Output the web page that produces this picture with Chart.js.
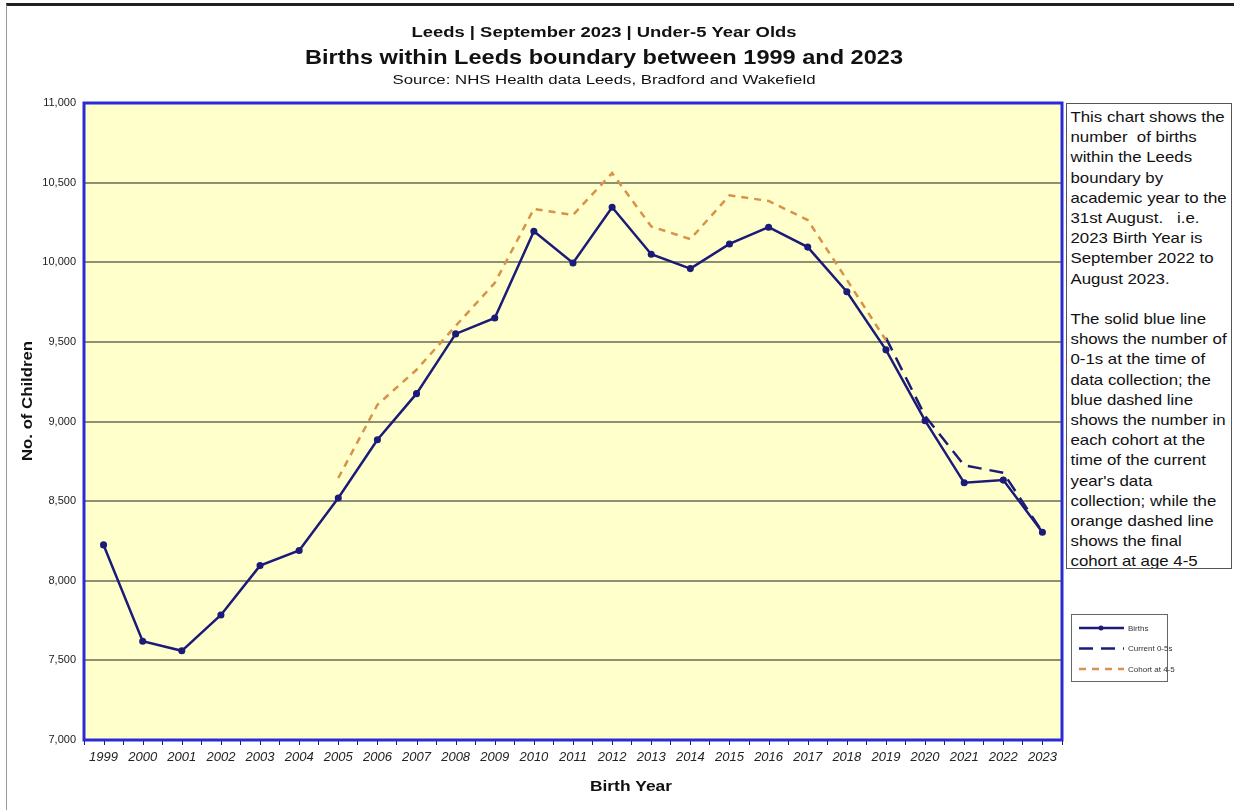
<!DOCTYPE html>
<html>
<head>
  <title>Births within Leeds boundary</title>
  <script src="https://cdn.jsdelivr.net/npm/chart.js"></script>
  <style>
    body {
      margin: 0;
      background: #ffffff;
      font-family: 'Liberation Sans', Arial, sans-serif;
      overflow: hidden;
    }

    .wrap {
      position: relative;
      width: 1234px;
      height: 810px;
    }

    /* outer frame of the original sheet */
    .frame {
      position: absolute;
      left: 6px;
      top: 3px;
      width: 1240px;
      height: 820px;
      border-top: 3px solid #222;
      border-left: 1px solid #9a9a9a;
    }

    .note {
      position: absolute;
      left: 1066px;
      top: 103px;
      width: 166px;
      height: 466px;
      border: 1px solid #555;
      background: #fff;
      overflow: hidden;
      box-sizing: border-box;
    }

    .note div {
      font-size: 14.5px;
      line-height: 20.2px;
      color: #111;
      padding: 3px 0 0 3px;
      white-space: nowrap;
      transform: scaleX(1.16);
      transform-origin: left top;
    }
  </style>
</head>
<body>
  <div class="wrap">
    <canvas id="birthsChart" width="1234" height="810"></canvas>
    <div class="frame"></div>
    <div class="note"><div>
      This chart shows the<br>
      number &nbsp;of births<br>
      within the Leeds<br>
      boundary by<br>
      academic year to the<br>
      31st August. &nbsp; i.e.<br>
      2023 Birth Year is<br>
      September 2022 to<br>
      August 2023.<br>
      <br>
      The solid blue line<br>
      shows the number of<br>
      0-1s at the time of<br>
      data collection; the<br>
      blue dashed line<br>
      shows the number in<br>
      each cohort at the<br>
      time of the current<br>
      year's data<br>
      collection; while the<br>
      orange dashed line<br>
      shows the final<br>
      cohort at age 4-5
    </div></div>
  </div>

  <script>
    // Birth years (academic year to 31st August)
    const years = ['1999', '2000', '2001', '2002', '2003', '2004', '2005', '2006', '2007',
      '2008', '2009', '2010', '2011', '2012', '2013', '2014', '2015', '2016', '2017',
      '2018', '2019', '2020', '2021', '2022', '2023'];

    // Births (0-1s at time of collection)
    const births = [8225, 7620, 7560, 7785, 8095, 8190, 8520, 8885, 9175, 9550, 9650,
      10195, 9995, 10345, 10050, 9960, 10115, 10220, 10095, 9815, 9450, 9005, 8615, 8632, 8305];

    // Current 0-5s (cohort size at this year's collection)
    const current05 = [null, null, null, null, null, null, null, null, null, null, null,
      null, null, null, null, null, null, null, null, null, 9525, 9035, 8725, 8678, 8305];

    // Final cohort at age 4-5
    const cohort45 = [null, null, null, null, null, null, 8645, 9105, 9325, 9600, 9870,
      10335, 10297, 10560, 10225, 10145, 10420, 10385, 10265, 9890, 9510, null, null, null, null];

    const yTicks = [7000, 7500, 8000, 8500, 9000, 9500, 10000, 10500, 11000];

    const NAVY = '#1c1c78';
    const ORANGE = '#d8924a';
    const FONT = "'Liberation Sans', Arial, sans-serif";

    // text in the original is stretched sideways, so fit it to a width
    function fitText(ctx, text, x, y, w) {
      const m = ctx.measureText(text).width;
      ctx.save();
      ctx.translate(x, y);
      ctx.scale(w / m, 1);
      ctx.fillText(text, 0, 0);
      ctx.restore();
    }

    // yellow plot area + blue box + extra ticks under each year
    const plotBox = {
      id: 'plotBox',
      beforeDraw(chart) {
        const { ctx, chartArea: a } = chart;
        ctx.save();
        ctx.fillStyle = '#ffffcc';
        ctx.fillRect(a.left, a.top, a.right - a.left, a.bottom - a.top);
        ctx.restore();
      },
      beforeDatasetsDraw(chart) {
        const { ctx, chartArea: a } = chart;
        const x = chart.scales.x;
        ctx.save();
        ctx.strokeStyle = NAVY;
        ctx.lineWidth = 1;
        years.forEach((y, i) => {
          const px = Math.round(x.getPixelForValue(i)) + 0.5;
          ctx.beginPath();
          ctx.moveTo(px, a.bottom);
          ctx.lineTo(px, a.bottom + 5);
          ctx.stroke();
        });
        ctx.strokeStyle = '#2a2ad8';
        ctx.lineWidth = 3;
        ctx.strokeRect(a.left, a.top, a.right - a.left, a.bottom - a.top);
        ctx.restore();
      }
    };

    // header lines, axis titles and the small legend box
    const labels = {
      id: 'labels',
      afterDraw(chart) {
        const { ctx, chartArea: a } = chart;
        ctx.save();
        ctx.fillStyle = '#111';
        ctx.textAlign = 'center';
        ctx.textBaseline = 'middle';
        const cx = 604;
        ctx.font = 'bold 15px ' + FONT;
        fitText(ctx, 'Leeds | September 2023 | Under-5 Year Olds', cx, 33, 385);
        ctx.font = 'bold 20px ' + FONT;
        fitText(ctx, 'Births within Leeds boundary between 1999 and 2023', cx, 58, 598);
        ctx.font = '13px ' + FONT;
        fitText(ctx, 'Source: NHS Health data Leeds, Bradford and Wakefield', cx, 80, 423);

        ctx.font = 'bold 15px ' + FONT;
        fitText(ctx, 'Birth Year', 631, 787, 82);
        ctx.save();
        ctx.translate(28, 401);
        ctx.rotate(-Math.PI / 2);
        ctx.font = 'bold 14px ' + FONT;
        fitText(ctx, 'No. of Children', 0, 0, 120);
        ctx.restore();

        // legend
        const lx = a.right + 9, ly = 614;
        ctx.fillStyle = '#fff';
        ctx.fillRect(lx, ly, 96, 67);
        ctx.strokeStyle = '#666';
        ctx.lineWidth = 1;
        ctx.strokeRect(lx + 0.5, ly + 0.5, 96, 67);
        ctx.textAlign = 'left';
        ctx.font = '8px ' + FONT;
        chart.data.datasets.forEach((ds, i) => {
          const y = ly + 14 + i * 20.5;
          ctx.strokeStyle = ds.borderColor;
          ctx.lineWidth = ds.borderWidth;
          ctx.setLineDash(ds.borderDash || []);
          ctx.beginPath();
          ctx.moveTo(lx + 8, y);
          ctx.lineTo(lx + 53, y);
          ctx.stroke();
          ctx.setLineDash([]);
          if (ds.pointRadius) {
            ctx.fillStyle = ds.borderColor;
            ctx.beginPath();
            ctx.arc(lx + 30, y, 2.5, 0, Math.PI * 2);
            ctx.fill();
          }
          ctx.fillStyle = '#333';
          ctx.fillText(ds.label, lx + 57, y + 0.5);
        });
        ctx.restore();
      }
    };

    new Chart(document.getElementById('birthsChart'), {
      type: 'line',
      data: {
        labels: years,
        datasets: [
          {
            label: 'Births',
            data: births,
            borderColor: NAVY,
            backgroundColor: NAVY,
            borderWidth: 2.5,
            pointRadius: 2.3,
            tension: 0,
            order: 3
          },
          {
            label: 'Current 0-5s',
            data: current05,
            borderColor: NAVY,
            borderWidth: 2.5,
            borderDash: [14, 8],
            pointRadius: 0,
            tension: 0,
            order: 2
          },
          {
            label: 'Cohort at 4-5',
            data: cohort45,
            borderColor: ORANGE,
            borderWidth: 2.5,
            borderDash: [7, 6],
            pointRadius: 0,
            tension: 0,
            order: 1
          }
        ]
      },
      options: {
        responsive: false,
        animation: false,
        layout: { padding: { top: 103, left: 0, right: 172, bottom: 0 } },
        plugins: {
          legend: { display: false },
          title: { display: false },
          tooltip: { enabled: false }
        },
        scales: {
          x: {
            offset: true,
            afterFit(s) { s.height = 70; },
            grid: {
              offset: true,
              drawOnChartArea: false,
              drawTicks: true,
              tickLength: 5,
              color: NAVY
            },
            border: { display: false },
            ticks: {
              color: '#222',
              padding: 5,
              maxRotation: 0,
              autoSkip: false,
              font: { family: FONT, size: 13, style: 'italic' }
            }
          },
          y: {
            min: 7000,
            max: 11000,
            afterFit(s) { s.width = 84; },
            afterBuildTicks(s) { s.ticks = yTicks.map(v => ({ value: v })); },
            grid: {
              color: '#8e8e74',
              lineWidth: 2,
              drawTicks: false
            },
            border: { display: false },
            ticks: {
              color: '#222',
              padding: 8,
              font: { family: FONT, size: 11 },
              callback: v => v.toLocaleString('en-GB')
            }
          }
        }
      },
      plugins: [plotBox, labels]
    });
  </script>
</body>
</html>
